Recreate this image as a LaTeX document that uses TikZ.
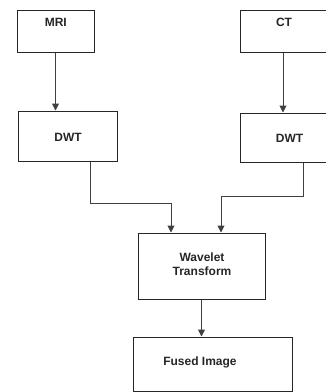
\documentclass[tikz,border=0pt]{standalone}
\usepackage{fontspec}
\setmainfont{Liberation Sans}
\usetikzlibrary{arrows.meta}
\begin{document}
\begin{tikzpicture}[x=1pt,y=-1pt,
  box/.style={draw=black!85,line width=1pt,rectangle,inner sep=0pt},
  lbl/.style={font=\bfseries\fontsize{12}{14}\selectfont,text=black!85,align=center,inner sep=0pt},
  arr/.style={draw=black!75,line width=1pt,-{Triangle[width=7pt,length=7pt]}},
  conn/.style={draw=black!75,line width=1pt}]
\useasboundingbox (0,0) rectangle (326,392);
\clip (0,0) rectangle (326,392);
% boxes
\node[box,minimum width=77pt,minimum height=42pt] (mri) at (55.5,31) {};
\node[box,minimum width=100pt,minimum height=42pt] (ct) at (290,31) {};
\node[box,minimum width=99pt,minimum height=50pt] (dwtl) at (67.5,136) {};
\node[box,minimum width=100pt,minimum height=49pt] (dwtr) at (290,137.5) {};
\node[box,minimum width=127pt,minimum height=66pt] (wave) at (201.5,266) {};
\node[box,minimum width=159pt,minimum height=54pt] (fused) at (212.5,364) {};
% labels
\node[lbl] (tmri) at (55.8,22.5) {MRI};
\node[lbl] (tct) at (284,22.5) {CT};
\node[lbl] (tdwtl) at (68,137) {DWT};
\node[lbl] (tdwtr) at (289.6,138.5) {DWT};
\node[lbl] (twave) at (202,264) {Wavelet\\Transform};
\node[lbl] (tfused) at (200,362.5) {Fused Image};
% coordinates
\coordinate (ctx) at (283,0);
\coordinate (lx) at (90,0);
\coordinate (rx) at (303,0);
\coordinate (l1) at (90,203);
\coordinate (l2) at (171,203);
\coordinate (r1) at (303,196);
\coordinate (r2) at (221,196);
% connectors
\draw[arr] (mri.south) -- (mri.south |- dwtl.north);
\draw[arr] (ct.south -| ctx) -- (dwtr.north -| ctx);
\draw[conn] (dwtl.south -| lx) -- (l1) -- (l2);
\draw[arr] (l2) -- (l2 |- wave.north);
\draw[conn] (dwtr.south -| rx) -- (r1) -- (r2);
\draw[arr] (r2) -- (r2 |- wave.north);
\draw[arr] (wave.south) -- (wave.south |- fused.north);
\end{tikzpicture}
\end{document}
